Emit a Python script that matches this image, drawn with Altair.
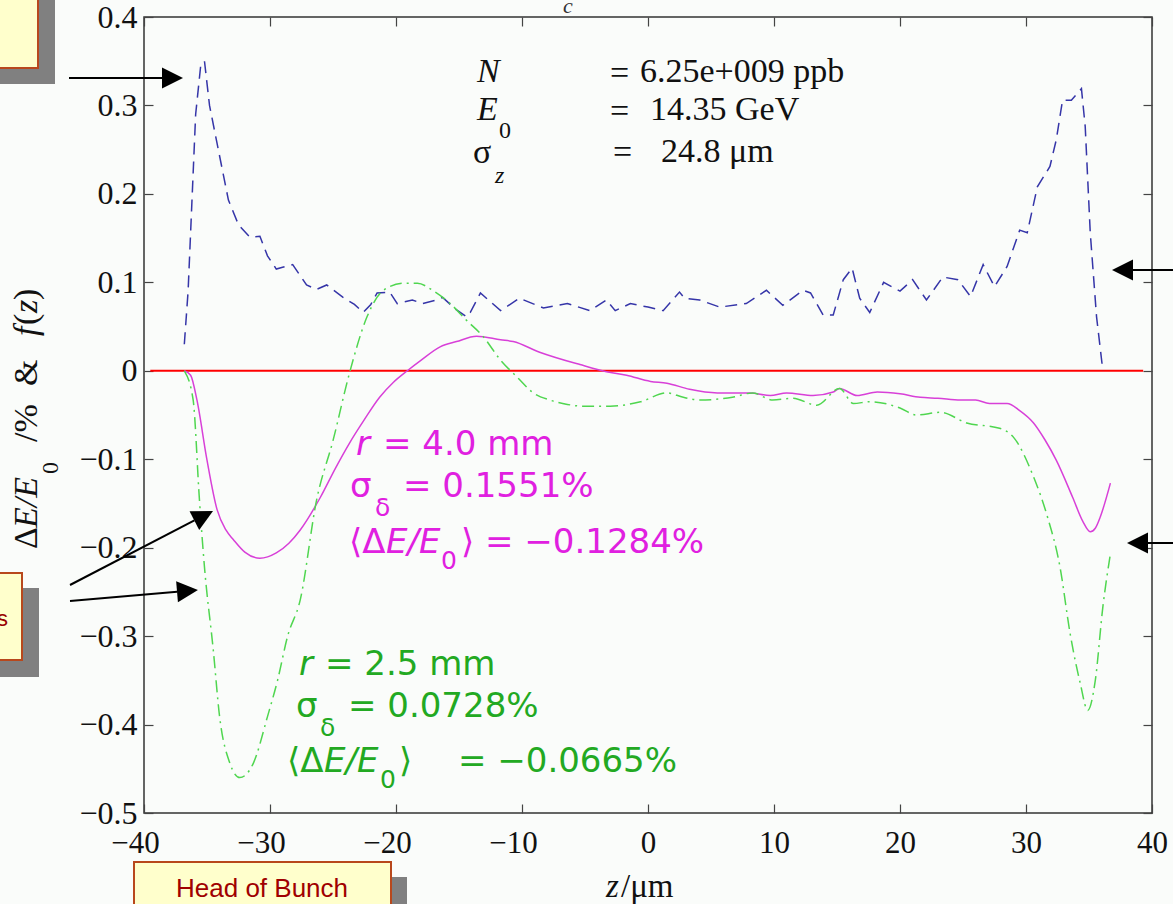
import altair as alt
import pandas as pd

# ---------------- data ----------------
blue_z = [-36.8, -36.5, -36.2, -35.9, -35.5, -35.2, -34.8, -34.2, -33.3, -32.5, -31.6, -30.8,
          -30.2, -29.5, -29.0, -28.2, -27.1, -26.3, -25.5, -24.2, -23.3, -22.6, -22.0, -21.5,
          -20.5, -19.9, -18.7, -17.9, -16.8, -16.3, -15.3, -14.4, -14.1, -13.3, -12.5, -11.7,
          -10.2, -8.3, -6.4, -4.6, -3.3, -2.6, -1.4, 0.0, 1.2, 2.5, 2.9, 4.1, 5.7, 7.8, 9.4,
          10.7, 12.3, 12.9, 13.9, 14.7, 15.5, 16.2, 16.8, 17.6, 18.7, 20.0, 21.0, 22.1, 23.4,
          24.6, 25.6, 26.6, 27.5, 28.5, 29.5, 30.1, 30.9, 31.9, 32.4, 32.9, 33.6, 34.4, 34.7,
          35.1, 35.6, 36.1]
blue_f = [0.03, 0.09, 0.19, 0.29, 0.345, 0.35, 0.30, 0.257, 0.193, 0.165, 0.151, 0.152,
          0.13, 0.115, 0.117, 0.12, 0.097, 0.092, 0.097, 0.083, 0.075, 0.066, 0.075, 0.088,
          0.089, 0.076, 0.08, 0.076, 0.08, 0.083, 0.07, 0.061, 0.066, 0.088, 0.078, 0.068,
          0.082, 0.071, 0.076, 0.068, 0.08, 0.068, 0.076, 0.072, 0.068, 0.089, 0.082, 0.08,
          0.072, 0.076, 0.091, 0.074, 0.091, 0.088, 0.063, 0.063, 0.103, 0.116, 0.082, 0.066,
          0.1, 0.09, 0.103, 0.08, 0.106, 0.103, 0.084, 0.12, 0.095, 0.118, 0.159, 0.156,
          0.208, 0.231, 0.261, 0.306, 0.306, 0.319, 0.276, 0.156, 0.061, 0.0]

mag_z = [-36.8, -36.3, -35.8, -35.0, -34.2, -33.5, -32.9, -32.0, -30.8, -29.5, -28.5, -27.6,
         -26.0, -24.8, -23.7, -22.5, -21.3, -20.2, -19.1, -18.0, -16.5, -15.2, -13.6, -11.7,
         -10.7, -8.6, -5.4, -3.3, -1.7, 0.2, 1.5, 3.3, 5.5, 8.1, 9.7, 11.0, 13.1, 14.7, 15.2,
         16.6, 18.2, 20.0, 21.6, 23.0, 24.8, 26.0, 27.1, 28.5, 29.5, 30.6, 31.5, 32.4, 33.7,
         34.5, 35.1, 35.5, 35.9, 36.7]
mag_v = [0.0, -0.005, -0.033, -0.101, -0.157, -0.18, -0.191, -0.205, -0.212, -0.206, -0.195,
         -0.18, -0.143, -0.11, -0.082, -0.055, -0.03, -0.013, 0.0, 0.012, 0.027, 0.033, 0.039,
         0.035, 0.033, 0.021, 0.007, -0.001, -0.005, -0.012, -0.014, -0.021, -0.025, -0.025,
         -0.028, -0.025, -0.028, -0.024, -0.02, -0.028, -0.024, -0.026, -0.03, -0.031, -0.033,
         -0.033, -0.037, -0.037, -0.045, -0.059, -0.078, -0.101, -0.143, -0.17, -0.182,
         -0.178, -0.165, -0.127]

grn_z = [-36.8, -36.1, -35.6, -35.2, -34.5, -34.0, -33.2, -32.4, -31.3, -30.2, -29.4, -28.6,
         -27.6, -26.3, -25.0, -23.7, -22.3, -21.0, -19.4, -18.3, -17.1, -15.7, -14.4, -13.1,
         -11.7, -10.4, -9.1, -7.8, -6.4, -5.2, -3.0, -0.6, 1.5, 2.8, 4.1, 6.7, 8.3, 9.9, 11.5,
         13.4, 15.2, 16.3, 17.6, 20.0, 21.3, 23.2, 25.3, 27.9, 29.0, 30.6, 31.7, 32.7, 33.5,
         34.3, 34.9, 35.5, 36.1, 36.7]
grn_v = [0.0, -0.033, -0.146, -0.222, -0.316, -0.391, -0.443, -0.46, -0.443, -0.391, -0.35,
         -0.30, -0.259, -0.146, -0.079, -0.003, 0.061, 0.091, 0.099, 0.099, 0.091, 0.076,
         0.057, 0.039, 0.012, -0.007, -0.025, -0.033, -0.038, -0.04, -0.04, -0.035, -0.025,
         -0.03, -0.033, -0.03, -0.025, -0.033, -0.031, -0.039, -0.02, -0.037, -0.035, -0.042,
         -0.05, -0.047, -0.059, -0.065, -0.075, -0.12, -0.165, -0.222, -0.297, -0.353, -0.384,
         -0.35, -0.267, -0.207]

zero_z = [-39.5, 39.3]
zero_v = [0.0, 0.0]

x_ticks = [-40, -30, -20, -10, 0, 10, 20, 30, 40]
y_ticks = [-0.5, -0.4, -0.3, -0.2, -0.1, 0.0, 0.1, 0.2, 0.3, 0.4]

# ---------------- layout ----------------
W, H = 1008, 796
L, T = 144, 17
SERIF = "Liberation Serif"
SANS = "DejaVu Sans"
BOXFONT = "Liberation Sans"
BG = "#fafcfa"
MAG_T = "#e020e0"
GRN_T = "#22a922"
INK = "#111111"


def X(px):
    return px - L


def Y(py):
    return py - T


xs = alt.Scale(domain=[-40, 40], nice=False, zero=False)
ys = alt.Scale(domain=[-0.5, 0.4], nice=False, zero=False)

blue_df = pd.DataFrame({"z": blue_z, "v": blue_f})
mag_df = pd.DataFrame({"z": mag_z, "v": mag_v})
grn_df = pd.DataFrame({"z": grn_z, "v": grn_v})
zero_df = pd.DataFrame({"z": zero_z, "v": zero_v})
one = pd.DataFrame({"k": [0]})

x_axis_main = alt.Axis(orient="bottom", values=x_ticks, format="d", ticks=False, domain=False,
                       grid=False, labelFont=SERIF, labelFontSize=31, labelColor=INK,
                       labelPadding=15, labelFlush=False, labelOverlap=False, title=None,
                       labelOffset={"condition": {"test": "datum.value < 0", "value": -9},
                                    "value": 0})
y_axis_main = alt.Axis(orient="left", values=y_ticks,
                       labelExpr="datum.value == 0 ? '0' : format(datum.value, '.1f')",
                       ticks=False, domain=False, grid=False, labelFont=SERIF,
                       labelFontSize=32, labelColor=INK, labelPadding=7,
                       labelOverlap=False, title=None)


def tick_axis(orient, values):
    return alt.Axis(orient=orient, values=values, offset=-(H if orient in ("top", "bottom") else W),
                    labels=False, domain=False, grid=False, ticks=True, tickSize=9,
                    tickColor="#444", tickWidth=1.2, title=None)


layers = []

# zero line
layers.append(alt.Chart(zero_df).mark_line(color="#ff0000", strokeWidth=2).encode(
    x=alt.X("z:Q", scale=xs, axis=x_axis_main), y=alt.Y("v:Q", scale=ys, axis=y_axis_main)))
# f(z) blue dashed
layers.append(alt.Chart(blue_df).mark_line(color="#3535a8", strokeWidth=1.5,
                                            strokeDash=[12, 7]).encode(
    x=alt.X("z:Q", scale=xs, axis=None), y=alt.Y("v:Q", scale=ys, axis=None)))
# r = 4.0 mm magenta solid
layers.append(alt.Chart(mag_df).mark_line(color="#d840d8", strokeWidth=1.5,
                                           interpolate="monotone").encode(
    x=alt.X("z:Q", scale=xs, axis=None), y=alt.Y("v:Q", scale=ys, axis=None)))
# r = 2.5 mm green dash-dot
layers.append(alt.Chart(grn_df).mark_line(color="#4fd64f", strokeWidth=1.5,
                                           strokeDash=[12, 5, 2, 5],
                                           interpolate="monotone").encode(
    x=alt.X("z:Q", scale=xs, axis=None), y=alt.Y("v:Q", scale=ys, axis=None)))
# inward ticks on all four sides
layers.append(alt.Chart(zero_df).mark_line(opacity=0).encode(
    x=alt.X("z:Q", scale=xs, axis=tick_axis("top", x_ticks)),
    y=alt.Y("v:Q", scale=ys, axis=tick_axis("right", y_ticks))))
layers.append(alt.Chart(zero_df).mark_line(opacity=0).encode(
    x=alt.X("z:Q", scale=xs, axis=tick_axis("bottom", x_ticks)),
    y=alt.Y("v:Q", scale=ys, axis=tick_axis("left", y_ticks))))


def txt(s, px, py, size, color, font, style="normal", align="left", angle=0):
    kw = dict(text=s, fontSize=size, color=color, font=font, fontStyle=style,
              align=align, baseline="middle")
    if angle:
        kw["angle"] = angle
    return alt.Chart(one).mark_text(**kw).encode(x=alt.value(X(px)), y=alt.value(Y(py)))


def box(x0, y0, x1, y1, fill, stroke=""):
    kw = dict(fill=fill)
    if stroke:
        kw.update(stroke=stroke, strokeWidth=2)
    return alt.Chart(one).mark_rect(**kw).encode(
        x=alt.value(X(x0)), x2=alt.value(X(x1)), y=alt.value(Y(y0)), y2=alt.value(Y(y1)))


def arrow(x0, y0, x1, y1, hx, hy, angle):
    line = alt.Chart(one).mark_rule(color="black", strokeWidth=2).encode(
        x=alt.value(X(x0)), x2=alt.value(X(x1)), y=alt.value(Y(y0)), y2=alt.value(Y(y1)))
    head = alt.Chart(one).mark_point(shape="M1,0L-1,-1L-1,1Z", filled=True, size=441,
                                     color="black", opacity=1, angle=angle).encode(
        x=alt.value(X(hx)), y=alt.value(Y(hy)))
    return [line, head]


# partial title fragment (cut off at the top in the original slide)
layers.append(txt("c", 563, 6, 22, "#333", SERIF, "italic"))

# parameter block
layers += [
    txt("N", 477, 72, 34, INK, SERIF, "italic"),
    txt("=", 610, 74, 34, INK, SERIF),
    txt("6.25e+009 ppb", 640, 72, 34, INK, SERIF),
    txt("E", 477, 110, 34, INK, SERIF, "italic"),
    txt("0", 499, 131, 24, INK, SERIF),
    txt("=", 610, 112, 34, INK, SERIF),
    txt("14.35 GeV", 650, 110, 34, INK, SERIF),
    txt("σ", 473, 153, 34, INK, SERIF),
    txt("z", 495, 176, 24, INK, SERIF, "italic"),
    txt("=", 613, 153, 34, INK, SERIF),
    txt("24.8 μm", 661, 152, 34, INK, SERIF),
]

# magenta block (r = 4.0 mm)
layers += [
    txt("r", 356, 445, 34, MAG_T, SANS, "italic"),
    txt("= 4.0 mm", 383, 445, 34, MAG_T, SANS),
    txt("σ", 350, 487, 34, MAG_T, SANS),
    txt("δ", 375, 508, 25, MAG_T, SANS),
    txt("= 0.1551%", 403, 487, 34, MAG_T, SANS),
    txt("⟨Δ", 349, 543, 34, MAG_T, SANS),
    txt("E/E", 386, 543, 34, MAG_T, SANS, "italic"),
    txt("0", 441, 561, 25, MAG_T, SANS),
    txt("⟩ = −0.1284%", 461, 543, 34, MAG_T, SANS),
]

# green block (r = 2.5 mm)
layers += [
    txt("r", 299, 665, 34, GRN_T, SANS, "italic"),
    txt("= 2.5 mm", 325, 665, 34, GRN_T, SANS),
    txt("σ", 296, 707, 34, GRN_T, SANS),
    txt("δ", 320, 728, 25, GRN_T, SANS),
    txt("= 0.0728%", 348, 707, 34, GRN_T, SANS),
    txt("⟨Δ", 287, 762, 34, GRN_T, SANS),
    txt("E/E", 324, 762, 34, GRN_T, SANS, "italic"),
    txt("0", 380, 780, 25, GRN_T, SANS),
    txt("⟩", 399, 762, 34, GRN_T, SANS),
    txt("= −0.0665%", 458, 762, 34, GRN_T, SANS),
]

# y axis title (rotated, reads bottom to top)
layers += [
    txt("Δ", 27, 549, 34, INK, SERIF, angle=270),
    txt("E/E", 27, 528, 34, INK, SERIF, "italic", angle=270),
    txt("0", 51, 474, 24, INK, SERIF, angle=270),
    txt("/%", 27, 442, 34, INK, SERIF, angle=270),
    txt("&", 27, 386, 34, INK, SERIF, angle=270),
    txt("f", 27, 336, 34, INK, SERIF, "italic", angle=270),
    txt("(", 27, 325, 34, INK, SERIF, angle=270),
    txt("z", 27, 313, 34, INK, SERIF, "italic", angle=270),
    txt(")", 27, 300, 34, INK, SERIF, angle=270),
]

# x axis title
layers += [
    txt("z", 606, 887, 33, INK, SERIF, "italic"),
    txt("/μm", 621, 887, 33, INK, SERIF),
]

# annotation boxes (slide call-outs)
layers += [
    box(0, 0, 55, 84, "#808080"),
    box(-4, -4, 38, 68, "#ffffcc", "#b8481c"),
    box(0, 588, 39, 677, "#808080"),
    box(-4, 573, 22, 660, "#ffffcc", "#b8481c"),
    txt("s", 8, 619, 22, "#990000", BOXFONT, align="right"),
    box(150, 877, 407, 910, "#808080"),
    box(134, 862, 391, 910, "#ffffcc", "#b8481c"),
    txt("Head of Bunch", 262, 889, 26, "#a00000", BOXFONT, align="center"),
]

# arrows
layers += arrow(69, 78, 165, 78, 172.5, 78, 0)
layers += arrow(1173, 270, 1130, 270, 1122.5, 270, 180)
layers += arrow(1173, 543, 1145, 543, 1137.5, 543, 180)
layers += arrow(70, 585, 194.4, 520.3, 203.7, 515.8, 332.6)
layers += arrow(70, 601, 177.1, 591.8, 187.5, 590.9, 355.1)

chart = alt.layer(*layers).resolve_axis(x="independent", y="independent").properties(
    width=W, height=H,
    autosize=alt.AutoSizeParams(type="none"),
    padding={"left": L, "top": T, "right": 1173 - L - W, "bottom": 904 - T - H},
    background=BG,
).configure_view(stroke="#333", strokeWidth=1.5, fill=BG)

chart.save("out.html", embed_options={"renderer": "svg", "actions": False})
